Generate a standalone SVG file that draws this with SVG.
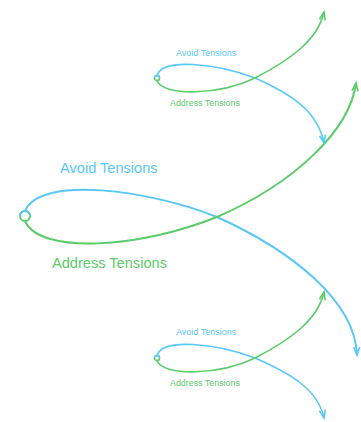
<svg xmlns="http://www.w3.org/2000/svg" width="361" height="422" viewBox="0 0 361 422">
<defs>
<style>
.b{fill:none;stroke:#5ac8f5;}
.g{fill:none;stroke:#5ccb6a;}
.lb{fill:#5ac8f5;font-family:"Liberation Sans",Arial,sans-serif;}
.lg{fill:#5ccb6a;font-family:"Liberation Sans",Arial,sans-serif;}
.big{stroke-width:2;}
.sm{stroke-width:1.6;}
</style>
<marker id="ab" markerUnits="userSpaceOnUse" markerWidth="12" markerHeight="10" refX="9" refY="4" orient="auto" viewBox="0 0 12 10">
<path d="M1,1 L9,4 L1,7" fill="none" stroke="#5ac8f5" stroke-width="1.6"/>
</marker>
<marker id="ag" markerUnits="userSpaceOnUse" markerWidth="12" markerHeight="10" refX="9" refY="4" orient="auto" viewBox="0 0 12 10">
<path d="M1,1 L9,4 L1,7" fill="none" stroke="#5ccb6a" stroke-width="1.6"/>
</marker>
</defs>
<g id="connectors">
<path class="b big" d="M25,211 C40,175 150,190 217,217 C290,250 355,300 357,355" marker-end="url(#ab)"/>
<path class="g big" d="M25,221 C40,255 140,248 217,217 C295,183 350,130 356,83" marker-end="url(#ag)"/>
<path class="b sm" d="M157,75.5 C162,58 215,63 255,78 C292,94 318,112 324,143" marker-end="url(#ab)"/>
<path class="g sm" d="M157,80.5 C163,97 220,95 255,78 C290,60 318,40 324,12" marker-end="url(#ag)"/>
<path class="b sm" d="M157,355.5 C162,338 215,343 255,358 C292,374 318,390 324,418" marker-end="url(#ab)"/>
<path class="g sm" d="M157,360.5 C163,377 220,375 255,358 C290,340 318,320 324,292" marker-end="url(#ag)"/>
<text class="lb" x="60" y="173" font-size="14.6">Avoid Tensions</text>
<text class="lg" x="52" y="268" font-size="14.6">Address Tensions</text>
<text class="lb" x="176" y="56" font-size="9">Avoid Tensions</text>
<text class="lg" x="170" y="106" font-size="8.9">Address Tensions</text>
<text class="lb" x="176" y="335" font-size="9">Avoid Tensions</text>
<text class="lg" x="170" y="386" font-size="8.9">Address Tensions</text>
</g>
<g id="node-main">
<circle cx="25" cy="216" r="5" fill="#fff" stroke="#5ccb6a" stroke-width="2"/>
<path d="M20,216 A5,5 0 0 1 30,216" fill="none" stroke="#5ac8f5" stroke-width="2"/>
</g>
<g id="node-top">
<circle cx="157" cy="78" r="2.5" fill="#fff" stroke="#5ccb6a" stroke-width="1.5"/>
<path d="M154.5,78 A2.5,2.5 0 0 1 159.5,78" fill="none" stroke="#5ac8f5" stroke-width="1.5"/>
</g>
<g id="node-bottom">
<circle cx="157" cy="358" r="2.5" fill="#fff" stroke="#5ccb6a" stroke-width="1.5"/>
<path d="M154.5,358 A2.5,2.5 0 0 1 159.5,358" fill="none" stroke="#5ac8f5" stroke-width="1.5"/>
</g>
</svg>
